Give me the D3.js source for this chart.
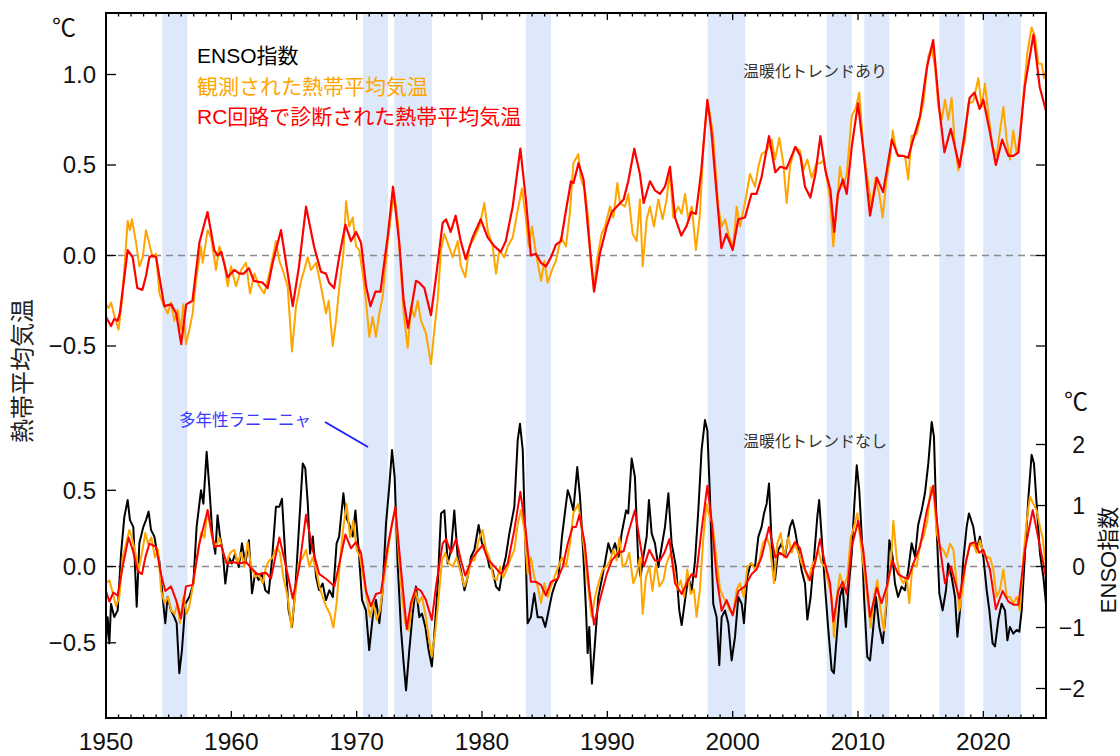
<!DOCTYPE html>
<html>
<head>
<meta charset="utf-8">
<script src="https://cdn.jsdelivr.net/npm/d3@7/dist/d3.min.js"></script>
<style>
  html, body { margin: 0; padding: 0; background: #fff; }
  svg { display: block; }
  text { font-family: "Liberation Sans", "Noto Sans CJK JP", sans-serif; }
</style>
</head>
<body>
<svg id="chart" width="1120" height="756"></svg>
<script>
// ---- data -------------------------------------------------------------
// Multi-year La Niña periods (start year, end year)
const laninaPeriods = [
  [1954.5, 1956.5], [1970.5, 1972.5], [1973.0, 1976.0], [1983.5, 1985.5],
  [1998.0, 2001.0], [2007.5, 2009.5], [2010.5, 2012.5], [2016.5, 2018.5],
  [2020.0, 2023.0]
];

// Upper panel (with warming trend): observed tropical mean temperature [year, °C]
const obsTrend = [
  [1950.0,-0.27],[1950.21,-0.29],[1950.4,-0.26],[1950.66,-0.33],[1951.0,-0.41],[1951.28,-0.25],[1951.73,0.19],[1951.91,0.14],
  [1952.07,0.20],[1952.4,0.07],[1952.66,-0.06],[1952.93,-0.01],[1953.19,0.14],[1953.4,0.08],[1953.72,-0.01],[1953.99,0.01],
  [1954.26,-0.21],[1954.57,-0.27],[1954.92,-0.32],[1955.19,-0.26],[1955.45,-0.36],[1955.72,-0.30],[1955.98,-0.41],[1956.17,-0.27],
  [1956.38,-0.49],[1956.65,-0.41],[1956.91,-0.32],[1957.18,-0.14],[1957.58,0.05],[1957.71,-0.04],[1958.11,0.14],[1958.38,0.10],
  [1958.78,-0.08],[1959.04,0.05],[1959.44,-0.04],[1959.71,-0.17],[1959.97,-0.06],[1960.37,-0.17],[1960.77,-0.08],[1961.17,-0.04],
  [1961.49,-0.21],[1961.84,-0.10],[1962.23,-0.17],[1962.63,-0.21],[1963.03,-0.10],[1963.3,-0.01],[1963.56,0.08],[1963.83,-0.03],
  [1964.1,-0.08],[1964.49,-0.17],[1964.84,-0.53],[1965.16,-0.28],[1965.56,-0.14],[1965.82,-0.08],[1966.09,-0.01],[1966.36,-0.08],
  [1966.76,-0.04],[1967.15,-0.17],[1967.55,-0.32],[1967.77,-0.25],[1968.09,-0.50],[1968.35,-0.36],[1968.62,-0.17],[1968.94,0.01],
  [1969.15,0.30],[1969.41,0.16],[1969.68,0.21],[1969.95,0.05],[1970.21,0.03],[1970.48,-0.10],[1970.74,-0.25],[1971.01,-0.45],
  [1971.28,-0.34],[1971.54,-0.45],[1971.81,-0.32],[1972.07,-0.23],[1972.47,0.07],[1972.82,0.27],[1973.0,0.34],[1973.27,0.20],
  [1973.54,-0.10],[1973.75,-0.32],[1974.07,-0.51],[1974.34,-0.28],[1974.6,-0.34],[1974.87,-0.25],[1975.13,-0.36],[1975.53,-0.43],
  [1975.93,-0.60],[1976.2,-0.41],[1976.46,-0.25],[1976.73,0.03],[1976.99,0.12],[1977.26,0.07],[1977.66,-0.01],[1978.06,0.08],
  [1978.32,-0.06],[1978.67,-0.12],[1978.99,0.05],[1979.39,0.10],[1979.79,0.16],[1980.19,0.29],[1980.45,0.14],[1980.85,0.05],
  [1981.12,-0.10],[1981.38,0.03],[1981.78,-0.01],[1982.05,0.05],[1982.45,0.10],[1982.85,0.25],[1983.19,0.37],[1983.46,0.23],
  [1983.72,0.05],[1983.99,0.16],[1984.31,0.01],[1984.71,-0.14],[1984.97,-0.03],[1985.24,-0.15],[1985.64,-0.07],[1985.9,-0.03],
  [1986.3,0.10],[1986.7,0.05],[1987.02,0.24],[1987.29,0.51],[1987.68,0.56],[1987.87,0.43],[1988.22,0.36],[1988.48,0.20],
  [1988.67,-0.04],[1988.94,-0.19],[1989.15,-0.03],[1989.55,0.12],[1989.81,0.16],[1990.21,0.27],[1990.48,0.21],[1990.8,0.40],
  [1991.01,0.29],[1991.41,0.27],[1991.67,0.34],[1992.02,0.12],[1992.34,0.08],[1992.6,0.31],[1992.82,-0.06],[1993.14,0.20],
  [1993.4,0.27],[1993.72,0.16],[1994.07,0.31],[1994.41,0.20],[1994.73,0.31],[1995.0,0.47],[1995.26,0.21],[1995.66,0.27],
  [1995.93,0.23],[1996.2,0.34],[1996.46,0.20],[1996.73,0.27],[1997.07,0.03],[1997.39,0.23],[1997.66,0.60],[1997.98,0.85],
  [1998.19,0.78],[1998.45,0.66],[1998.85,0.27],[1999.12,0.16],[1999.39,0.20],[1999.73,0.10],[2000.05,0.05],[2000.32,0.27],
  [2000.58,0.16],[2000.98,0.29],[2001.38,0.45],[2001.78,0.38],[2002.05,0.49],[2002.31,0.56],[2002.71,0.58],[2003.11,0.64],
  [2003.38,0.53],[2003.72,0.65],[2004.04,0.51],[2004.31,0.29],[2004.57,0.49],[2004.97,0.60],[2005.37,0.58],[2005.64,0.47],
  [2005.96,0.53],[2006.3,0.43],[2006.7,0.51],[2007.02,0.51],[2007.29,0.53],[2007.5,0.43],[2007.77,0.31],[2008.03,0.05],
  [2008.3,0.27],[2008.56,0.49],[2008.83,0.38],[2009.1,0.45],[2009.5,0.77],[2009.84,0.82],[2010.1,0.90],[2010.42,0.60],
  [2010.77,0.42],[2011.09,0.27],[2011.4,0.43],[2011.7,0.34],[2011.97,0.21],[2012.29,0.43],[2012.55,0.53],[2012.77,0.69],
  [2013.08,0.56],[2013.48,0.55],[2013.75,0.55],[2014.01,0.42],[2014.28,0.66],[2014.68,0.67],[2014.95,0.76],[2015.21,0.84],
  [2015.61,1.10],[2015.88,1.15],[2016.15,1.04],[2016.41,0.82],[2016.68,0.75],[2016.94,0.86],[2017.21,0.75],[2017.47,0.87],
  [2017.74,0.60],[2018.01,0.47],[2018.27,0.56],[2018.54,0.64],[2018.8,0.84],[2019.2,0.85],[2019.6,0.98],[2019.87,0.82],
  [2020.13,0.95],[2020.4,0.78],[2020.74,0.60],[2021.06,0.55],[2021.33,0.69],[2021.6,0.82],[2021.86,0.64],[2022.13,0.53],
  [2022.39,0.69],[2022.66,0.56],[2022.92,0.66],[2023.19,0.88],[2023.51,1.12],[2023.85,1.26],[2024.12,1.21],[2024.39,1.06],
  [2024.65,1.06],[2024.85,0.98],[2025.0,1.02]
];

// Upper panel: temperature diagnosed by the RC circuit model [year, °C]
const rcTrend = [
  [1950.0,-0.34],[1950.4,-0.39],[1950.66,-0.35],[1950.93,-0.36],[1951.1,-0.32],[1951.73,0.03],[1952.13,-0.01],[1952.5,-0.18],
  [1952.9,-0.19],[1953.2,-0.11],[1953.46,-0.01],[1953.7,0.0],[1954.0,-0.01],[1954.65,-0.28],[1955.2,-0.27],[1955.6,-0.32],
  [1956.0,-0.49],[1956.4,-0.27],[1956.9,-0.25],[1957.45,0.07],[1958.1,0.24],[1958.64,0.03],[1958.9,0.0],[1959.2,0.02],
  [1959.7,-0.12],[1960.24,-0.08],[1960.64,-0.10],[1961.0,-0.10],[1961.4,-0.07],[1961.8,-0.14],[1962.5,-0.15],[1962.9,-0.18],
  [1963.3,-0.04],[1963.96,0.14],[1964.5,-0.10],[1964.9,-0.28],[1965.4,-0.06],[1965.96,0.27],[1966.6,0.05],[1967.15,-0.09],
  [1967.55,-0.10],[1967.8,-0.15],[1968.2,-0.18],[1968.6,-0.01],[1969.1,0.17],[1969.55,0.08],[1969.95,0.13],[1970.35,0.07],
  [1970.75,-0.17],[1971.1,-0.28],[1971.5,-0.20],[1971.9,-0.20],[1972.5,0.12],[1972.9,0.38],[1973.4,0.07],[1973.75,-0.25],
  [1974.1,-0.40],[1974.73,-0.14],[1975.0,-0.15],[1975.4,-0.18],[1975.93,-0.33],[1976.33,-0.12],[1976.86,0.18],[1977.13,0.20],
  [1977.5,0.13],[1977.9,0.22],[1978.3,0.08],[1978.7,-0.02],[1979.25,0.10],[1979.9,0.20],[1980.45,0.10],[1981.0,0.05],
  [1981.5,0.02],[1981.9,0.08],[1982.45,0.27],[1983.06,0.59],[1983.5,0.31],[1983.9,0.0],[1984.3,0.01],[1984.7,-0.04],
  [1985.1,-0.06],[1985.5,-0.01],[1985.9,0.06],[1986.3,0.08],[1986.7,0.25],[1987.1,0.41],[1987.3,0.40],[1987.7,0.51],
  [1988.1,0.42],[1988.5,0.12],[1988.94,-0.20],[1989.4,0.01],[1989.95,0.16],[1990.35,0.24],[1990.9,0.28],[1991.3,0.31],
  [1991.67,0.41],[1992.15,0.59],[1992.6,0.45],[1992.9,0.29],[1993.4,0.41],[1993.8,0.36],[1994.2,0.34],[1994.6,0.38],
  [1995.0,0.49],[1995.4,0.21],[1995.9,0.11],[1996.3,0.16],[1996.7,0.24],[1997.07,0.23],[1997.5,0.47],[1997.98,0.86],
  [1998.3,0.69],[1998.7,0.36],[1999.1,0.04],[1999.5,0.12],[2000.0,0.03],[2000.45,0.20],[2000.98,0.21],[2001.5,0.34],
  [2001.9,0.34],[2002.3,0.43],[2002.9,0.66],[2003.4,0.46],[2003.8,0.49],[2004.3,0.48],[2005.0,0.60],[2005.4,0.55],
  [2005.77,0.38],[2006.2,0.32],[2006.6,0.45],[2007.0,0.66],[2007.4,0.47],[2007.8,0.36],[2008.1,0.13],[2008.4,0.34],
  [2008.8,0.42],[2009.1,0.34],[2009.5,0.60],[2010.0,0.84],[2010.4,0.60],[2010.96,0.22],[2011.5,0.43],[2012.0,0.35],
  [2012.3,0.47],[2012.7,0.64],[2013.2,0.55],[2013.6,0.55],[2014.0,0.54],[2014.4,0.64],[2014.95,0.77],[2015.5,1.04],
  [2016.0,1.19],[2016.5,0.80],[2016.9,0.57],[2017.4,0.70],[2018.1,0.49],[2018.5,0.67],[2018.9,0.87],[2019.3,0.90],
  [2019.7,0.81],[2020.0,0.86],[2020.5,0.69],[2021.0,0.50],[2021.5,0.64],[2022.0,0.55],[2022.4,0.55],[2022.8,0.57],
  [2023.3,0.93],[2024.0,1.22],[2024.5,0.93],[2025.0,0.80]
];

// Lower panel: ENSO index (right axis) [year, index]
const ensoIndex = [
  [1950.0,-1.26],[1950.13,-0.83],[1950.27,-1.26],[1950.4,-0.61],[1950.66,-0.83],[1950.93,-0.72],[1951.2,0.21],[1951.46,0.81],
  [1951.73,1.09],[1951.91,0.76],[1952.18,0.65],[1952.45,-0.66],[1952.66,0.38],[1952.98,0.65],[1953.19,0.76],[1953.4,0.90],
  [1953.59,0.60],[1953.86,0.49],[1954.04,0.27],[1954.25,0.10],[1954.52,-0.50],[1954.73,-0.93],[1954.92,-0.50],[1955.19,-0.72],
  [1955.45,-0.83],[1955.64,-0.93],[1955.85,-1.75],[1956.06,-1.37],[1956.33,-0.61],[1956.65,-0.50],[1956.97,-0.28],[1957.23,0.65],
  [1957.58,1.25],[1957.77,1.03],[1958.03,1.88],[1958.24,1.31],[1958.5,0.49],[1958.72,0.21],[1958.9,0.84],[1959.1,0.49],
  [1959.3,0.27],[1959.52,-0.28],[1959.79,0.16],[1960.05,0.05],[1960.3,0.21],[1960.59,-0.01],[1960.85,0.38],[1961.12,0.05],
  [1961.4,0.43],[1961.65,-0.44],[1961.9,-0.11],[1962.18,-0.22],[1962.45,-0.11],[1962.71,-0.39],[1962.98,-0.44],[1963.24,0.10],
  [1963.56,0.98],[1963.83,0.98],[1964.04,1.11],[1964.31,0.16],[1964.57,-0.72],[1964.84,-0.99],[1965.1,-0.39],[1965.43,0.76],
  [1965.7,1.69],[1965.9,1.61],[1966.1,1.03],[1966.28,0.21],[1966.5,0.49],[1966.76,-0.17],[1967.0,-0.39],[1967.29,-0.28],
  [1967.55,-0.55],[1967.82,-0.39],[1968.1,-0.50],[1968.4,0.38],[1968.6,0.49],[1968.94,1.20],[1969.15,0.81],[1969.4,0.70],
  [1969.68,0.49],[1969.9,0.92],[1970.16,0.27],[1970.43,-0.55],[1970.74,-0.72],[1971.0,-1.37],[1971.28,-0.83],[1971.54,-0.55],
  [1971.81,-0.93],[1972.07,-0.39],[1972.34,0.70],[1972.6,1.31],[1972.82,1.91],[1973.03,1.47],[1973.27,0.05],[1973.54,-1.04],
  [1973.75,-1.59],[1973.94,-2.03],[1974.2,-1.37],[1974.47,-0.77],[1974.73,-0.33],[1975.0,-0.83],[1975.21,-0.77],[1975.48,-0.99],
  [1975.74,-1.37],[1976.0,-1.64],[1976.2,-1.10],[1976.46,-0.33],[1976.73,0.87],[1977.0,0.92],[1977.26,0.05],[1977.53,0.27],
  [1977.79,0.92],[1978.06,0.16],[1978.32,-0.06],[1978.6,-0.39],[1978.86,-0.17],[1979.12,0.16],[1979.39,0.27],[1979.73,0.68],
  [1980.0,0.38],[1980.32,0.27],[1980.59,-0.01],[1980.85,-0.06],[1981.12,-0.33],[1981.38,-0.39],[1981.65,-0.06],[1981.9,0.16],
  [1982.18,0.54],[1982.58,0.98],[1982.85,2.07],[1983.03,2.34],[1983.25,1.91],[1983.46,0.38],[1983.64,-0.93],[1983.9,-0.83],
  [1984.17,-0.44],[1984.44,-0.83],[1984.79,-0.83],[1985.05,-0.99],[1985.32,-0.72],[1985.6,-0.44],[1985.85,-0.28],[1986.1,-0.17],
  [1986.38,0.49],[1986.84,1.25],[1987.02,1.14],[1987.29,0.92],[1987.6,1.63],[1987.82,1.14],[1988.08,0.21],[1988.3,-0.72],
  [1988.43,-1.42],[1988.56,-0.99],[1988.77,-1.92],[1989.01,-1.26],[1989.28,-0.50],[1989.55,-0.22],[1989.8,0.05],[1990.08,0.38],
  [1990.35,0.21],[1990.61,0.38],[1990.9,0.16],[1991.14,0.54],[1991.5,0.92],[1991.67,0.87],[1991.94,1.77],[1992.2,1.47],
  [1992.47,0.05],[1992.66,-0.17],[1992.87,0.16],[1993.14,0.49],[1993.32,1.09],[1993.54,0.54],[1993.8,0.38],[1994.07,-0.01],
  [1994.33,0.32],[1994.6,0.65],[1994.87,1.20],[1995.13,0.38],[1995.48,-0.01],[1995.74,-0.72],[1995.93,-0.96],[1996.2,-0.55],
  [1996.46,-0.17],[1996.73,-0.39],[1997.0,0.10],[1997.26,0.92],[1997.52,1.91],[1997.79,2.40],[1997.98,2.23],[1998.19,1.14],
  [1998.45,-0.61],[1998.72,-0.83],[1998.93,-1.62],[1999.12,-0.83],[1999.39,-0.72],[1999.65,-0.93],[1999.92,-1.54],[2000.19,-1.15],
  [2000.45,-0.50],[2000.72,-0.61],[2000.9,-0.93],[2001.17,-0.17],[2001.44,0.05],[2001.78,-0.01],[2002.05,0.49],[2002.31,0.65],
  [2002.5,0.87],[2002.71,1.03],[2002.9,1.36],[2003.11,0.38],[2003.38,-0.22],[2003.64,0.27],[2003.9,0.38],[2004.17,0.16],
  [2004.57,0.65],[2004.78,0.76],[2004.97,0.60],[2005.24,0.27],[2005.5,-0.06],[2005.77,-0.28],[2005.96,-0.87],[2006.22,-0.50],
  [2006.5,0.16],[2006.75,0.81],[2006.9,1.09],[2007.1,0.49],[2007.37,-0.33],[2007.63,-1.04],[2007.9,-1.70],[2008.08,-1.75],
  [2008.3,-1.15],[2008.56,-0.50],[2008.77,-0.33],[2009.04,-0.99],[2009.23,-0.39],[2009.5,0.21],[2009.68,0.92],[2009.9,1.66],
  [2010.1,1.25],[2010.3,0.49],[2010.48,-0.50],[2010.74,-1.48],[2010.96,-1.54],[2011.2,-1.04],[2011.43,-0.50],[2011.7,-0.99],
  [2011.97,-1.26],[2012.23,-0.72],[2012.5,0.43],[2012.76,0.16],[2012.95,-0.28],[2013.2,-0.50],[2013.48,-0.33],[2013.75,-0.39],
  [2014.01,-0.06],[2014.28,0.38],[2014.55,0.16],[2014.8,0.68],[2015.08,0.92],[2015.34,1.20],[2015.61,1.69],[2015.88,2.37],
  [2016.06,2.13],[2016.27,0.65],[2016.49,-0.44],[2016.75,-0.72],[2017.02,-0.39],[2017.2,0.05],[2017.47,-0.17],[2017.74,-0.50],
  [2017.93,-1.15],[2018.14,-0.72],[2018.4,0.10],[2018.67,0.65],[2018.85,0.87],[2019.2,0.65],[2019.47,0.27],[2019.73,0.49],
  [2020.0,0.16],[2020.27,-0.39],[2020.48,-0.72],[2020.74,-1.26],[2020.93,-1.31],[2021.2,-0.87],[2021.46,-0.61],[2021.73,-0.72],
  [2021.92,-1.21],[2022.12,-0.99],[2022.39,-1.10],[2022.66,-1.04],[2022.87,-1.07],[2023.06,-0.72],[2023.32,0.21],[2023.6,1.14],
  [2023.85,1.83],[2024.04,1.69],[2024.25,1.03],[2024.52,0.21],[2024.79,-0.17],[2025.0,-0.61]
];

// Lower panel (warming trend removed): observed temperature [year, °C]
const obsDetrended = [
  [1950.0,-0.11],[1950.27,-0.09],[1950.53,-0.17],[1950.8,-0.26],[1951.06,-0.20],[1951.33,0.06],[1951.6,0.15],[1951.86,0.24],
  [1952.07,0.19],[1952.34,0.09],[1952.61,-0.02],[1952.87,0.09],[1953.14,0.22],[1953.35,0.15],[1953.62,0.19],[1953.9,0.06],
  [1954.15,0.11],[1954.4,-0.16],[1954.68,-0.24],[1954.95,-0.20],[1955.21,-0.29],[1955.48,-0.31],[1955.69,-0.24],[1955.9,-0.37],
  [1956.17,-0.20],[1956.44,-0.31],[1956.65,-0.26],[1956.97,-0.11],[1957.31,0.09],[1957.58,0.22],[1957.85,0.19],[1958.1,0.37],
  [1958.46,0.19],[1958.78,0.13],[1959.04,0.19],[1959.36,0.09],[1959.63,0.02],[1959.9,0.09],[1960.24,0.11],[1960.5,0.02],
  [1960.77,0.09],[1961.04,0.0],[1961.3,0.16],[1961.57,0.0],[1961.91,-0.07],[1962.18,-0.05],[1962.5,-0.11],[1962.77,0.0],
  [1963.03,0.04],[1963.3,0.06],[1963.62,0.13],[1963.88,0.09],[1964.15,-0.07],[1964.5,-0.20],[1964.79,-0.40],[1965.05,-0.22],
  [1965.37,0.02],[1965.7,0.06],[1965.96,0.11],[1966.22,0.0],[1966.49,0.06],[1966.76,-0.02],[1967.02,-0.13],[1967.29,-0.20],
  [1967.55,-0.26],[1967.87,-0.31],[1968.14,-0.40],[1968.4,-0.24],[1968.67,0.04],[1968.94,0.26],[1969.2,0.41],[1969.47,0.19],
  [1969.73,0.30],[1970.0,0.11],[1970.27,0.06],[1970.53,-0.07],[1970.8,-0.20],[1971.06,-0.33],[1971.33,-0.24],[1971.6,-0.35],
  [1971.86,-0.29],[1972.13,-0.11],[1972.47,0.09],[1972.82,0.28],[1973.09,0.37],[1973.35,0.09],[1973.62,-0.20],[1973.88,-0.37],
  [1974.15,-0.42],[1974.41,-0.24],[1974.68,-0.16],[1974.95,-0.24],[1975.21,-0.20],[1975.48,-0.31],[1975.74,-0.46],[1976.0,-0.59],
  [1976.28,-0.42],[1976.54,-0.20],[1976.81,0.04],[1977.07,0.09],[1977.34,0.02],[1977.66,0.0],[1977.98,0.06],[1978.24,-0.02],
  [1978.59,-0.13],[1978.86,-0.07],[1979.12,0.04],[1979.4,0.04],[1979.73,0.17],[1980.05,0.24],[1980.32,0.11],[1980.59,0.06],
  [1980.9,-0.07],[1981.17,-0.09],[1981.44,0.0],[1981.7,-0.07],[1981.97,-0.02],[1982.23,0.04],[1982.58,0.11],[1982.85,0.28],
  [1983.11,0.37],[1983.38,0.24],[1983.64,-0.05],[1983.9,0.06],[1984.17,-0.07],[1984.44,-0.13],[1984.71,-0.24],[1984.97,-0.11],
  [1985.24,-0.20],[1985.5,-0.13],[1985.77,-0.07],[1986.1,0.0],[1986.38,0.06],[1986.7,0.0],[1987.02,0.15],[1987.29,0.35],
  [1987.68,0.41],[1987.95,0.26],[1988.22,0.06],[1988.48,-0.15],[1988.75,-0.33],[1989.01,-0.20],[1989.36,-0.09],[1989.63,-0.02],
  [1989.95,0.0],[1990.21,0.04],[1990.48,0.11],[1990.74,0.04],[1990.96,0.19],[1991.22,0.0],[1991.49,0.02],[1991.75,0.09],
  [1992.07,-0.11],[1992.34,-0.05],[1992.6,0.06],[1992.82,-0.31],[1993.08,-0.07],[1993.35,0.0],[1993.6,-0.16],[1993.88,0.02],
  [1994.15,-0.13],[1994.47,-0.09],[1994.73,0.02],[1995.05,0.09],[1995.32,-0.02],[1995.58,-0.15],[1995.85,-0.09],[1996.12,-0.20],
  [1996.38,-0.02],[1996.65,-0.18],[1996.91,-0.15],[1997.12,-0.33],[1997.39,-0.15],[1997.66,0.19],[1997.92,0.41],[1998.14,0.33],
  [1998.4,0.28],[1998.72,0.04],[1998.99,-0.15],[1999.25,-0.20],[1999.52,-0.24],[1999.79,-0.29],[2000.05,-0.31],[2000.32,-0.15],
  [2000.58,-0.11],[2000.9,-0.20],[2001.17,0.0],[2001.52,0.02],[2001.78,-0.02],[2002.13,0.04],[2002.4,0.15],[2002.71,0.19],
  [2002.98,0.13],[2003.3,-0.11],[2003.56,0.15],[2003.83,0.22],[2004.1,0.06],[2004.44,0.19],[2004.7,0.09],[2004.97,0.15],
  [2005.24,0.09],[2005.5,0.02],[2005.77,-0.02],[2006.04,-0.09],[2006.3,0.0],[2006.57,0.04],[2006.83,0.11],[2007.1,0.02],
  [2007.37,0.0],[2007.63,-0.11],[2007.9,-0.20],[2008.08,-0.46],[2008.3,-0.20],[2008.56,-0.05],[2008.83,-0.13],[2009.15,-0.07],
  [2009.41,0.19],[2009.68,0.26],[2009.95,0.35],[2010.21,0.15],[2010.48,-0.02],[2010.74,-0.20],[2011.01,-0.40],[2011.27,-0.20],
  [2011.54,-0.09],[2011.81,-0.29],[2012.07,-0.42],[2012.34,-0.13],[2012.6,-0.02],[2012.82,0.30],[2013.08,0.06],[2013.35,-0.07],
  [2013.62,-0.11],[2013.88,-0.07],[2014.09,-0.24],[2014.36,0.02],[2014.68,0.0],[2014.95,0.15],[2015.21,0.19],[2015.53,0.30],
  [2015.8,0.52],[2016.06,0.46],[2016.28,0.22],[2016.54,0.13],[2016.8,0.11],[2017.07,0.06],[2017.34,0.15],[2017.61,0.11],
  [2017.87,-0.11],[2018.08,-0.29],[2018.35,-0.15],[2018.62,0.04],[2018.88,0.13],[2019.2,0.15],[2019.47,0.09],[2019.73,0.17],
  [2020.0,0.09],[2020.27,0.06],[2020.53,0.06],[2020.8,-0.02],[2021.06,-0.20],[2021.33,-0.15],[2021.6,-0.02],[2021.86,-0.20],
  [2022.12,-0.20],[2022.39,-0.24],[2022.66,-0.20],[2022.92,-0.29],[2023.19,0.06],[2023.46,0.30],[2023.72,0.46],[2023.99,0.41],
  [2024.25,0.37],[2024.52,0.26],[2024.73,0.19],[2025.0,0.0]
];

// Lower panel: RC circuit diagnosis with the warming trend removed [year, °C]
const rcDetrended = [
  [1950.0,-0.16],[1950.27,-0.23],[1950.59,-0.17],[1950.93,-0.19],[1951.33,0.0],[1951.8,0.19],[1952.13,0.11],[1952.53,-0.03],
  [1952.87,-0.05],[1953.14,0.06],[1953.46,0.15],[1953.99,0.13],[1954.39,-0.05],[1954.73,-0.16],[1955.19,-0.13],[1955.59,-0.22],
  [1955.98,-0.34],[1956.38,-0.13],[1956.91,-0.12],[1957.45,0.15],[1958.11,0.37],[1958.64,0.13],[1959.18,0.14],[1959.63,0.02],
  [1960.11,0.03],[1960.64,0.02],[1961.17,0.03],[1961.57,-0.01],[1962.1,-0.05],[1962.77,-0.04],[1963.16,-0.08],[1963.83,0.19],
  [1964.36,0.0],[1964.9,-0.21],[1965.43,0.0],[1965.96,0.34],[1966.49,0.11],[1967.02,-0.05],[1967.55,-0.08],[1968.22,-0.13],
  [1968.62,0.02],[1969.1,0.21],[1969.55,0.12],[1969.95,0.16],[1970.35,0.09],[1970.75,-0.16],[1971.14,-0.26],[1971.54,-0.18],
  [1971.94,-0.17],[1972.47,0.13],[1973.08,0.39],[1973.54,-0.02],[1974.0,-0.41],[1974.33,-0.24],[1974.73,-0.14],[1975.13,-0.16],
  [1975.53,-0.22],[1976.0,-0.35],[1976.33,-0.13],[1976.86,0.15],[1977.13,0.18],[1977.53,0.09],[1977.93,0.18],[1978.32,0.04],
  [1978.67,-0.06],[1979.26,0.06],[1980.05,0.14],[1980.45,0.05],[1981.0,0.0],[1981.52,-0.05],[1982.05,0.02],[1982.58,0.24],
  [1983.06,0.49],[1983.46,0.26],[1983.9,-0.10],[1984.3,-0.10],[1984.7,-0.12],[1985.1,-0.19],[1985.5,-0.10],[1986.04,-0.08],
  [1986.44,0.0],[1986.84,0.15],[1987.23,0.26],[1987.5,0.26],[1987.77,0.34],[1988.2,0.15],[1988.56,-0.15],[1988.94,-0.38],
  [1989.4,-0.22],[1989.95,-0.05],[1990.35,0.04],[1990.88,0.09],[1991.3,0.10],[1991.67,0.22],[1992.2,0.37],[1992.66,0.13],
  [1992.92,0.0],[1993.35,0.11],[1993.8,0.04],[1994.2,0.04],[1994.55,0.09],[1994.95,0.18],[1995.4,-0.11],[1995.93,-0.18],
  [1996.33,-0.11],[1996.73,-0.05],[1997.07,-0.07],[1997.52,0.24],[1997.98,0.53],[1998.32,0.30],[1998.72,-0.07],[1999.12,-0.29],
  [1999.52,-0.22],[2000.0,-0.32],[2000.45,-0.16],[2000.98,-0.13],[2001.5,-0.05],[2001.9,-0.02],[2002.3,0.06],[2002.9,0.26],
  [2003.4,0.06],[2003.78,0.09],[2004.3,0.06],[2004.97,0.16],[2005.37,0.12],[2005.77,-0.02],[2006.17,-0.09],[2006.57,0.02],
  [2006.97,0.18],[2007.37,0.02],[2007.77,-0.11],[2008.03,-0.36],[2008.43,-0.16],[2008.77,-0.10],[2009.1,-0.18],[2009.5,0.13],
  [2010.02,0.30],[2010.42,0.11],[2010.96,-0.33],[2011.5,-0.14],[2011.88,-0.24],[2012.3,-0.13],[2012.74,0.04],[2013.2,-0.05],
  [2013.6,-0.07],[2014.0,-0.08],[2014.42,0.02],[2014.95,0.13],[2015.5,0.37],[2016.0,0.53],[2016.5,0.15],[2016.94,-0.11],
  [2017.42,0.0],[2018.08,-0.21],[2018.54,0.0],[2018.94,0.15],[2019.33,0.16],[2019.68,0.09],[2020.0,0.11],[2020.53,-0.02],
  [2021.0,-0.28],[2021.54,-0.16],[2022.0,-0.23],[2022.4,-0.25],[2022.8,-0.25],[2023.32,0.11],[2023.94,0.37],[2024.47,0.15],
  [2025.0,-0.07]
];

// Axis tick values
const decadeTicks = [1950, 1960, 1970, 1980, 1990, 2000, 2010, 2020];
const topTicks = [-0.5, 0.0, 0.5, 1.0];
const bottomTicks = [-0.5, 0.0, 0.5];
const ensoTicks = [-2, -1, 0, 1, 2];

// Legend entries
const legendItems = [
  { label: "ENSO指数", color: "#000000" },
  { label: "観測された熱帯平均気温", color: "#ffa500" },
  { label: "RC回路で診断された熱帯平均気温", color: "#ff0000" }
];

// ---- layout & scales ---------------------------------------------------
const plot = { left: 106, right: 1046, top: 13, bottom: 718 };
const svg = d3.select("#chart");

const x = d3.scaleLinear().domain([1950, 2025]).range([plot.left, plot.right]);
const yTop = d3.scaleLinear().domain([-0.5, 1.0]).range([346, 74.5]);
const yBot = d3.scaleLinear().domain([-0.5, 0.5]).range([642.8, 490.3]);
const yEnso = d3.scaleLinear().domain([-2, 2]).range([688.5, 444.5]);

const fmt1 = v => d3.format(".1f")(v).replace("-", "\u2212");
const fmt0 = v => String(v).replace("-", "\u2212");

svg.append("defs").append("clipPath").attr("id", "plotClip")
  .append("rect")
  .attr("x", plot.left).attr("y", plot.top)
  .attr("width", plot.right - plot.left).attr("height", plot.bottom - plot.top);

// ---- shaded multi-year La Niña periods --------------------------------
svg.append("g").attr("clip-path", "url(#plotClip)")
  .selectAll("rect").data(laninaPeriods).join("rect")
  .attr("x", d => x(d[0]))
  .attr("width", d => x(d[1]) - x(d[0]))
  .attr("y", plot.top)
  .attr("height", plot.bottom - plot.top)
  .attr("fill", "#dde8fb");

// ---- zero reference lines ----------------------------------------------
const zeroG = svg.append("g");
[yTop(0), yBot(0)].forEach(yy => {
  zeroG.append("line")
    .attr("x1", plot.left).attr("x2", plot.right)
    .attr("y1", yy).attr("y2", yy)
    .attr("stroke", "#8a8a8a").attr("stroke-width", 1.6)
    .attr("stroke-dasharray", "7,5");
});

// ---- series ------------------------------------------------------------
const lineG = svg.append("g").attr("clip-path", "url(#plotClip)")
  .attr("fill", "none").attr("stroke-linejoin", "round");

const lineTop = d3.line().x(d => x(d[0])).y(d => yTop(d[1]));
const lineBot = d3.line().x(d => x(d[0])).y(d => yBot(d[1]));
const lineEnso = d3.line().x(d => x(d[0])).y(d => yEnso(d[1]));

lineG.append("path").attr("d", lineTop(obsTrend)).attr("stroke", "#ffa500").attr("stroke-width", 2);
lineG.append("path").attr("d", lineTop(rcTrend)).attr("stroke", "#ff0000").attr("stroke-width", 2.2);

lineG.append("path").attr("d", lineEnso(ensoIndex)).attr("stroke", "#000000").attr("stroke-width", 2);
lineG.append("path").attr("d", lineBot(obsDetrended)).attr("stroke", "#ffa500").attr("stroke-width", 2);
lineG.append("path").attr("d", lineBot(rcDetrended)).attr("stroke", "#ff0000").attr("stroke-width", 2);

// ---- axes ----------------------------------------------------------------
const axisG = svg.append("g");

// year ticks along the bottom and the top edge, pointing inward
const yearMinor = d3.range(1950, 2026, 1);
[plot.bottom, plot.top].forEach((edge, i) => {
  const dir = i === 0 ? -1 : 1;
  axisG.selectAll(null).data(yearMinor).join("line")
    .attr("x1", d => x(d)).attr("x2", d => x(d))
    .attr("y1", edge)
    .attr("y2", d => edge + dir * (d % 10 === 0 ? 7 : 3.5))
    .attr("stroke", "#000").attr("stroke-width", 1.3);
});

axisG.selectAll(null).data(decadeTicks).join("text")
  .attr("x", d => x(d)).attr("y", 750)
  .attr("text-anchor", "middle")
  .attr("font-size", 24.5).attr("fill", "#111")
  .text(d => d);

// left axis: upper panel and lower panel
function leftTicks(scale, values) {
  axisG.selectAll(null).data(values).join("line")
    .attr("x1", plot.left).attr("x2", plot.left + 10)
    .attr("y1", d => scale(d)).attr("y2", d => scale(d))
    .attr("stroke", "#000").attr("stroke-width", 1.3);
  axisG.selectAll(null).data(values).join("text")
    .attr("x", 96).attr("y", d => scale(d))
    .attr("dy", "0.35em")
    .attr("text-anchor", "end")
    .attr("font-size", 24).attr("fill", "#111")
    .text(fmt1);
}
leftTicks(yTop, topTicks);
leftTicks(yBot, bottomTicks);

// right edge: mirrored ticks of the upper panel
axisG.selectAll(null).data(topTicks).join("line")
  .attr("x1", plot.right - 10).attr("x2", plot.right)
  .attr("y1", d => yTop(d)).attr("y2", d => yTop(d))
  .attr("stroke", "#000").attr("stroke-width", 1.3);

// right axis: ENSO index
axisG.selectAll(null).data(ensoTicks).join("line")
  .attr("x1", plot.right - 10).attr("x2", plot.right)
  .attr("y1", d => yEnso(d)).attr("y2", d => yEnso(d))
  .attr("stroke", "#000").attr("stroke-width", 1.3);
axisG.selectAll(null).data(ensoTicks).join("text")
  .attr("x", 1085).attr("y", d => yEnso(d))
  .attr("dy", "0.35em")
  .attr("text-anchor", "end")
  .attr("font-size", 23).attr("fill", "#111")
  .text(fmt0);

// frame
svg.append("rect")
  .attr("x", plot.left).attr("y", plot.top)
  .attr("width", plot.right - plot.left).attr("height", plot.bottom - plot.top)
  .attr("fill", "none").attr("stroke", "#000").attr("stroke-width", 2);

// ---- units and axis titles ----------------------------------------------
svg.append("text").attr("x", 64).attr("y", 27).attr("dominant-baseline", "central")
  .attr("text-anchor", "middle").attr("font-size", 24).attr("fill", "#111").text("℃");
svg.append("text").attr("x", 1076).attr("y", 401).attr("dominant-baseline", "central")
  .attr("text-anchor", "middle").attr("font-size", 24).attr("fill", "#111").text("℃");

svg.append("text")
  .attr("transform", "translate(22,371) rotate(-90)")
  .attr("text-anchor", "middle").attr("dominant-baseline", "central")
  .attr("font-size", 24).attr("fill", "#222")
  .text("熱帯平均気温");

svg.append("text")
  .attr("transform", "translate(1108,560) rotate(-90)")
  .attr("text-anchor", "middle").attr("dominant-baseline", "central")
  .attr("font-size", 22).attr("fill", "#111")
  .text("ENSO指数");

// ---- legend ----------------------------------------------------------------
svg.append("g").selectAll("text").data(legendItems).join("text")
  .attr("x", 197).attr("y", (d, i) => 63 + i * 30.7)
  .attr("font-size", 21).attr("fill", d => d.color)
  .text(d => d.label);

// ---- panel labels and annotation ---------------------------------------------
svg.append("text").attr("x", 743).attr("y", 71).attr("dominant-baseline", "central")
  .attr("font-size", 16).attr("fill", "#333").text("温暖化トレンドあり");
svg.append("text").attr("x", 743).attr("y", 441).attr("dominant-baseline", "central")
  .attr("font-size", 16).attr("fill", "#333").text("温暖化トレンドなし");

svg.append("text").attr("x", 179).attr("y", 420).attr("dominant-baseline", "central")
  .attr("font-size", 16.5).attr("fill", "#3a3aff").text("多年性ラニーニャ");
svg.append("line")
  .attr("x1", 325).attr("y1", 422).attr("x2", 368).attr("y2", 447)
  .attr("stroke", "#1f1fff").attr("stroke-width", 2);
</script>
</body>
</html>
